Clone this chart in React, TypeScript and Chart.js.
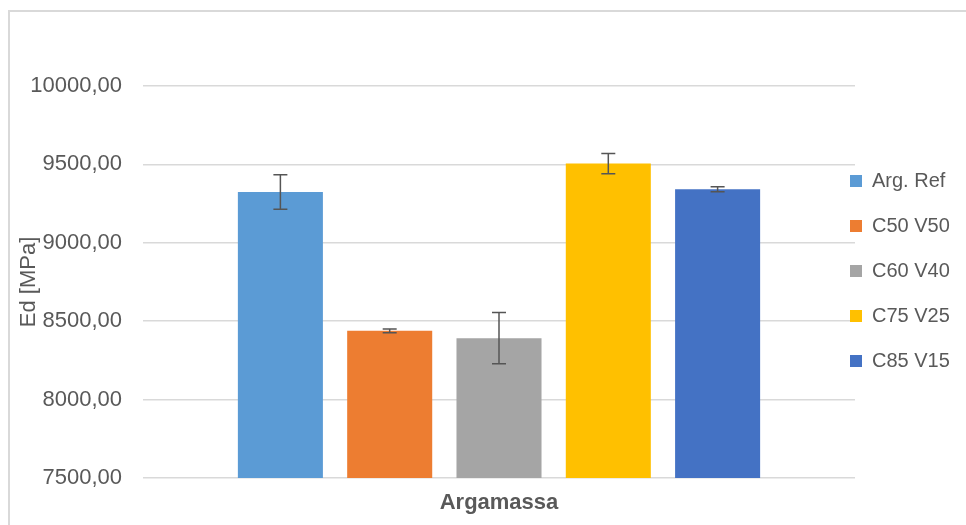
import React, { useEffect, useRef } from "react";
import { Chart, registerables } from "chart.js";

Chart.register(...registerables);

const categories = ["Argamassa"];
const seriesNames = ["Arg. Ref", "C50 V50", "C60 V40", "C75 V25", "C85 V15"];
const seriesValues = [9324, 8439, 8392, 9505, 9342];
const seriesErrors = [110, 12, 164, 65, 16];
const seriesColors = ["#5B9BD5", "#ED7D31", "#A5A5A5", "#FFC000", "#4472C4"];
const yMin = 7500;
const yMax = 10000;
const yStep = 500;
const yTitle = "Ed [MPa]";

const TEXT = "#595959";
const FONT = "'Liberation Sans', Arial, sans-serif";

const errorBars = {
  id: "errorBars",
  afterDatasetsDraw(chart: any) {
    const ctx = chart.ctx;
    const y = chart.scales.y;
    chart.data.datasets.forEach((ds: any, i: number) => {
      const meta = chart.getDatasetMeta(i);
      meta.data.forEach((bar: any, j: number) => {
        const v = ds.data[j];
        const e = ds.errors[j];
        const top = y.getPixelForValue(v + e);
        const bot = y.getPixelForValue(v - e);
        ctx.save();
        ctx.strokeStyle = "#555555";
        ctx.lineWidth = 1.5;
        ctx.beginPath();
        ctx.moveTo(bar.x, top);
        ctx.lineTo(bar.x, bot);
        ctx.moveTo(bar.x - 7, top);
        ctx.lineTo(bar.x + 7, top);
        ctx.moveTo(bar.x - 7, bot);
        ctx.lineTo(bar.x + 7, bot);
        ctx.stroke();
        ctx.restore();
      });
    });
  },
};

const legendPlacer = {
  id: "legendPlacer",
  afterLayout(chart: any) {
    const lg = chart.legend;
    if (!lg) return;
    const pad = lg.options.labels.padding;
    const dx = 850 - (lg.left + pad);
    lg.left += dx;
    lg.right = chart.width;
    lg.width = lg.right - lg.left;
    const colH = lg.columnSizes && lg.columnSizes[0] ? lg.columnSizes[0].height : 0;
    const cy = (lg.top + pad + lg.bottom - colH) / 2;
    const dy = 171 - cy;
    lg.top += dy;
    lg.bottom += dy;
  },
};

export default function App() {
  const ref = useRef<HTMLCanvasElement | null>(null);
  useEffect(() => {
    if (!ref.current) return;
    Chart.defaults.font.family = FONT;
    const chart = new Chart(ref.current, {
      type: "bar",
      data: {
        labels: categories,
        datasets: seriesNames.map((name, i) => ({
          label: name,
          data: [seriesValues[i]],
          errors: [seriesErrors[i]],
          backgroundColor: seriesColors[i],
          borderWidth: 0,
          categoryPercentage: 0.7676,
          barPercentage: 0.778,
        })) as any,
      },
      options: {
        responsive: false,
        animation: false,
        layout: { padding: { left: 8, top: 86, right: 0, bottom: 0 } },
        plugins: {
          tooltip: { enabled: false },
          legend: {
            position: "right",
            maxWidth: 111,
            labels: {
              boxWidth: 12,
              boxHeight: 12,
              padding: 25,
              color: TEXT,
              font: { size: 20, family: FONT },
            },
          },
        },
        scales: {
          x: {
            grid: { display: false },
            border: { display: false },
            ticks: {
              color: TEXT,
              padding: 4,
              font: { size: 22, weight: "bold", family: FONT },
            },
            afterFit(scale: any) {
              scale.height = 47;
            },
          },
          y: {
            min: yMin,
            max: yMax,
            border: { display: false },
            grid: { color: "#d9d9d9", lineWidth: 1.5, drawTicks: false },
            ticks: {
              stepSize: yStep,
              color: TEXT,
              padding: 21,
              font: { size: 22, family: FONT },
              callback: (v: any) => Number(v).toFixed(2).replace(".", ","),
            },
            title: {
              display: true,
              text: yTitle,
              color: TEXT,
              padding: { top: 8, bottom: 0 },
              font: { size: 22, family: FONT },
            },
            afterFit(scale: any) {
              scale.width = 135;
            },
          },
        },
      },
      plugins: [errorBars, legendPlacer],
    } as any);
    return () => chart.destroy();
  }, []);

  return (
    <div
      style={{
        position: "fixed",
        left: 0,
        top: 0,
        width: 966,
        height: 525,
        background: "#fff",
        overflow: "hidden",
      }}
    >
      <div
        style={{
          position: "absolute",
          left: 8,
          top: 10,
          width: 1000,
          height: 600,
          borderLeft: "2px solid #d9d9d9",
          borderTop: "2px solid #d9d9d9",
        }}
      />
      <canvas
        ref={ref}
        width={966}
        height={525}
        style={{ position: "absolute", left: 0, top: 0 }}
      />
    </div>
  );
}
